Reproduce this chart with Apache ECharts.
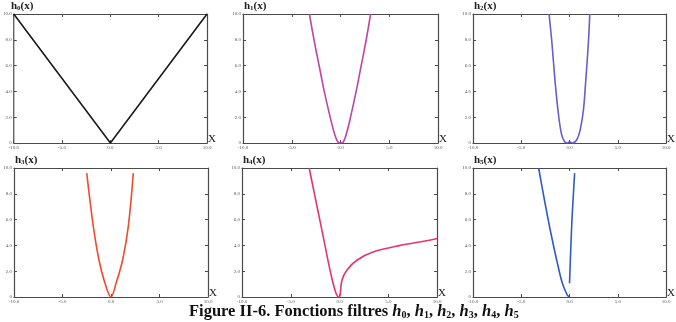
<!DOCTYPE html>
<html>
<head>
<meta charset="utf-8">
<script src="https://cdn.jsdelivr.net/npm/echarts@6/dist/echarts.min.js"></script>
<style>
html, body { margin: 0; padding: 0; background: #fff; }
#main { width: 676px; height: 322px; }
</style>
</head>
<body>
<div id="main"></div>
<script>
// valeurs
var xTicks = [-10, -5, 0, 5, 10];
var yTicks = [0, 2, 4, 6, 8, 10];

var h0X = [-10, 0, 10];
var h0Y = [10, 0, 10];

var h1X = [-3.19, -2.68, -2.17, -1.66, -1.07, -0.63, -0.29, 0, 0.3, 0.62, 1.04, 1.6, 2.1, 2.6, 3.09];
var h1Y = [10, 7.85, 5.91, 3.98, 2.04, 0.75, 0.1, 0, 0.1, 0.75, 2.04, 3.98, 5.91, 7.85, 10];

var h2X = [-2.12, -1.82, -1.54, -1.2, -0.85, -0.51, -0.2, 0, 0.3, 0.75, 1.1, 1.44, 1.71, 1.95, 2.1];
var h2Y = [10, 7.73, 5.14, 2.56, 0.75, 0.1, 0, 0.1, 0, 0.25, 1.0, 2.56, 5.14, 7.73, 10];

var h3X = [-2.5, -1.82, -1.24, -0.62, 0, 0.52, 1.2, 1.78, 2.3];
var h3Y = [9.6, 5.45, 2.87, 1.06, 0, 1.06, 2.87, 5.45, 9.6];

var h4X = [-3.11, -2.5, -1.99, -1.49, -0.97, -0.46, -0.1, 0, 0.25, 0.75, 1.78, 3.5, 6.25, 8.65, 10];
var h4Y = [10, 7.74, 5.86, 4.0, 2.08, 0.52, 0, 0, 1.3, 2.08, 2.85, 3.5, 4.0, 4.32, 4.54];

var h5aX = [-3.2, -2.6, -1.93, -1.25, -0.74, -0.23, 0];
var h5aY = [10, 7.52, 4.94, 2.6, 1.06, 0.15, 0];
var h5bX = [0, 0.22, 0.53];
var h5bY = [1.06, 5.45, 9.6];

var panels = [
    { sub: '0', left: 10, top: 14, width: 197, color: '#1a1a1a', curves: [[h0X, h0Y]] },
    { sub: '1', left: 243, top: 14, width: 195, color: '#bd45a8', curves: [[h1X, h1Y]] },
    { sub: '2', left: 473, top: 14, width: 195, color: '#6a5ccc', curves: [[h2X, h2Y]] },
    { sub: '3', left: 14, top: 168, width: 194, color: '#f04a30', curves: [[h3X, h3Y]] },
    { sub: '4', left: 242, top: 168, width: 195, color: '#e6356c', curves: [[h4X, h4Y]] },
    { sub: '5', left: 473, top: 168, width: 195, color: '#2e5cc0', curves: [[h5aX, h5aY], [h5bX, h5bY]] }
];

function zip(xs, ys) {
    return xs.map(function (x, i) { return [x, ys[i]]; });
}

var serif = '"Liberation Serif", "DejaVu Serif", serif';
var frame = '#4a4a4a';
var grid = [], xAxis = [], yAxis = [], series = [], title = [];

panels.forEach(function (p, i) {
    grid.push({ left: p.left, top: p.top, width: p.width, height: 129 });
    // axe x bas + axe x haut (cadre)
    xAxis.push({
        type: 'value', gridIndex: i, min: -10, max: 10, interval: 5,
        name: 'X', nameLocation: 'end', nameGap: 1,
        nameTextStyle: { fontFamily: serif, fontSize: 11, color: '#222', verticalAlign: 'bottom', padding: [0, 0, -2, 0] },
        axisLine: { lineStyle: { color: frame, width: 1.2 } },
        axisTick: { inside: true, length: 3, lineStyle: { color: frame } },
        axisLabel: { fontSize: 5, color: '#555', fontFamily: serif, margin: 2,
            formatter: function (v) { return v.toFixed(1); } },
        splitLine: { show: false }
    });
    xAxis.push({
        type: 'value', gridIndex: i, position: 'top', min: -10, max: 10, interval: 5,
        axisLine: { onZero: false, lineStyle: { color: frame, width: 1.2 } },
        axisTick: { inside: true, length: 3, lineStyle: { color: frame } },
        axisLabel: { show: false }, splitLine: { show: false }
    });
    yAxis.push({
        type: 'value', gridIndex: i, min: 0, max: 10, interval: 2,
        axisLine: { show: true, onZero: false, lineStyle: { color: frame, width: 1.2 } },
        axisTick: { show: true, inside: true, length: 3, lineStyle: { color: frame } },
        axisLabel: { fontSize: 5, color: '#555', fontFamily: serif, margin: 2,
            formatter: function (v) { return v === 0 ? '0' : v.toFixed(1); } },
        splitLine: { show: false }
    });
    yAxis.push({
        type: 'value', gridIndex: i, position: 'right', min: 0, max: 10, interval: 2,
        axisLine: { show: true, onZero: false, lineStyle: { color: frame, width: 1.2 } },
        axisTick: { show: true, inside: true, length: 3, lineStyle: { color: frame } },
        axisLabel: { show: false }, splitLine: { show: false }
    });
    p.curves.forEach(function (c) {
        series.push({
            type: 'line', xAxisIndex: 2 * i, yAxisIndex: 2 * i,
            data: zip(c[0], c[1]), smooth: i === 0 ? false : 0.35,
            symbol: 'none', clip: true,
            lineStyle: { color: p.color, width: 1.6 }
        });
    });
    title.push({
        text: '{h|h}{s|' + p.sub + '}{h|(x)}',
        left: p.left + 1, top: p.top - 13,
        padding: 0,
        textStyle: {
            rich: {
                h: { fontFamily: serif, fontSize: 11, color: '#222' },
                s: { fontFamily: serif, fontSize: 7, color: '#222', verticalAlign: 'bottom' }
            }
        }
    });
});

// légende de la figure
title.push({
    text: '{b|Figure II-6. Fonctions filtres }{i|h}{s|0}{b|, }{i|h}{s|1}{b|, }{i|h}{s|2}{b|, }{i|h}{s|3}{b|, }{i|h}{s|4}{b|, }{i|h}{s|5}',
    left: 189, top: 303, padding: 0,
    textStyle: {
        rich: {
            b: { fontFamily: serif, fontSize: 16.5, fontWeight: 'bold', color: '#111' },
            i: { fontFamily: serif, fontSize: 16.5, fontWeight: 'bold', fontStyle: 'italic', color: '#111' },
            s: { fontFamily: serif, fontSize: 10, fontWeight: 'bold', color: '#111', verticalAlign: 'bottom' }
        }
    }
});

var myChart = echarts.init(document.getElementById('main'));
myChart.setOption({
    animation: false,
    title: title,
    grid: grid,
    xAxis: xAxis,
    yAxis: yAxis,
    series: series
});
</script>
</body>
</html>
